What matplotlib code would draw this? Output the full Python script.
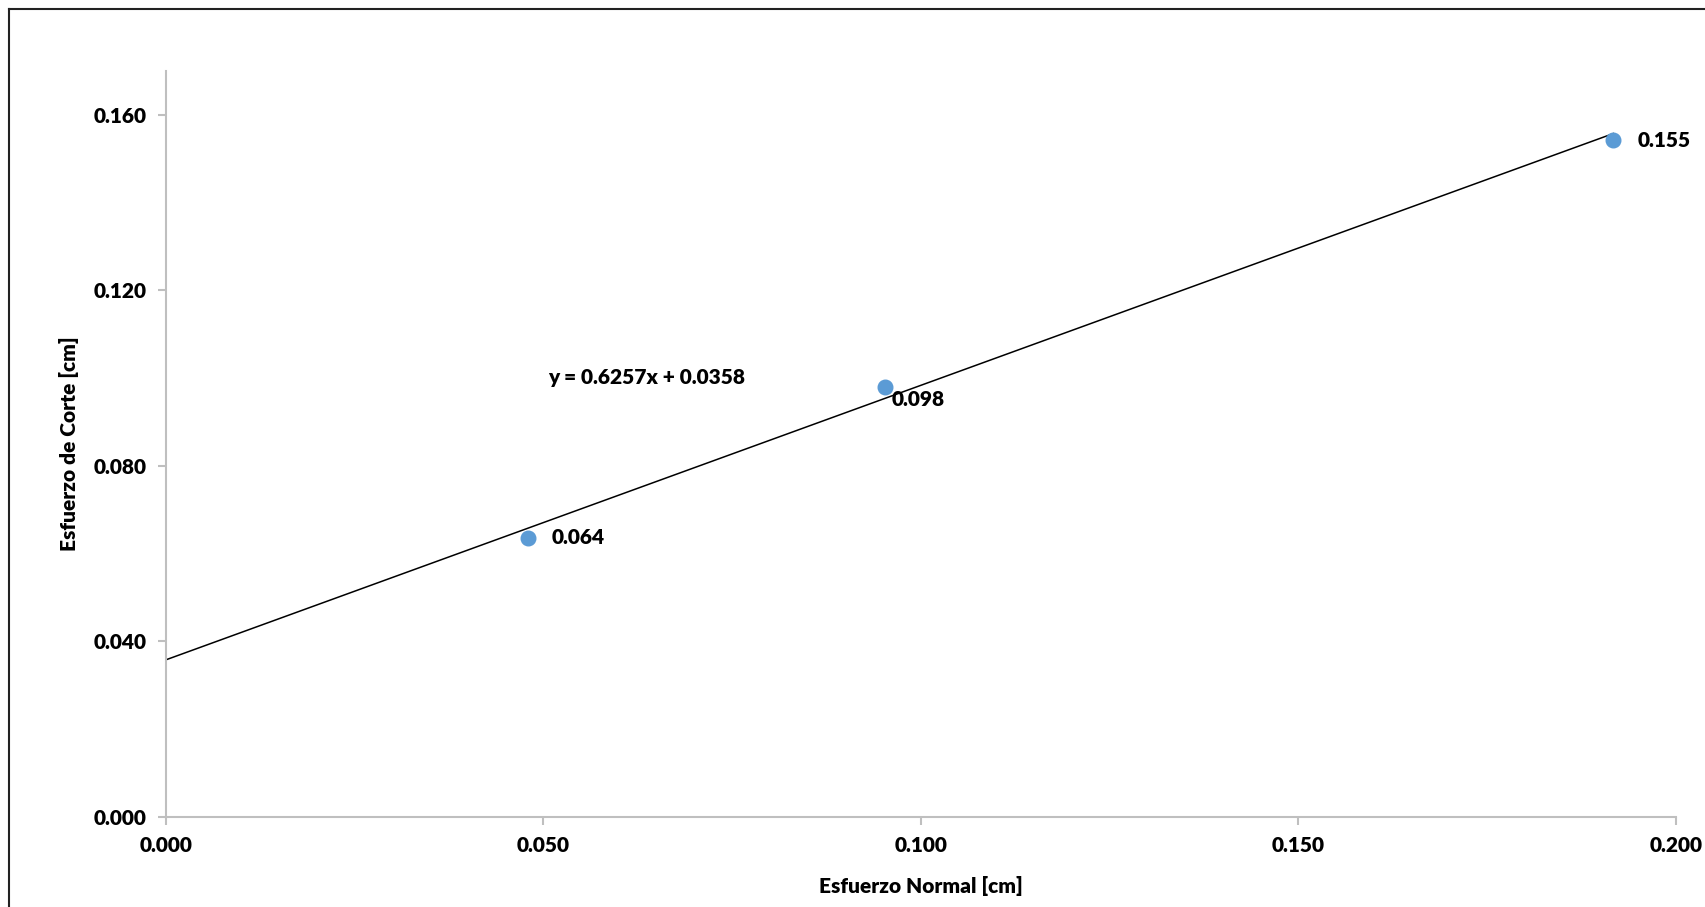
import matplotlib
matplotlib.use("Agg")
import matplotlib.pyplot as plt
from matplotlib.lines import Line2D
import numpy as np

# Data
x_vals = [0.0480, 0.0952, 0.1917]
y_vals = [0.0636, 0.0981, 0.1542]
point_labels = ["0.064", "0.098", "0.155"]
slope = 0.6257
intercept = 0.0358
equation = "y = 0.6257x + 0.0358"
x_ticks = [0.000, 0.050, 0.100, 0.150, 0.200]
y_ticks = [0.000, 0.040, 0.080, 0.120, 0.160]

W = 'heavy'
plt.rcParams['font.family'] = ['Lato', 'DejaVu Sans']
plt.rcParams['font.weight'] = W

fig = plt.figure(figsize=(17.06, 9.07), dpi=100)
ax = fig.add_axes([165.7/1706, 1-817/907, (1676-165.7)/1706, (817-71)/907])

# trendline
xt = np.array([0.0, x_vals[-1]])
ax.plot(xt, slope*xt + intercept, color='black', lw=1.1, zorder=2)
ax.plot(x_vals, y_vals, 'o', color='#5B9BD5', ms=10.5, mec='#5B9BD5', zorder=3)

offsets = [(23, 0), (7, -13), (24, 0)]
for x, y, lab, (dx, dy) in zip(x_vals, y_vals, point_labels, offsets):
    ax.annotate(lab, (x, y), xytext=(dx*0.72, dy*0.72), textcoords='offset points',
                ha='left', va='center', fontsize=15, fontweight=W, color='black')

ax.text(0.0506, 0.1001, equation, ha='left', va='center', fontsize=15, fontweight=W)

ax.set_xlim(0, 0.2)
ax.set_ylim(0, 0.17)
ax.set_xticks(x_ticks)
ax.set_yticks(y_ticks)
ax.set_xticklabels([f"{v:.3f}" for v in x_ticks])
ax.set_yticklabels([f"{v:.3f}" for v in y_ticks])
for s in ['top', 'right']:
    ax.spines[s].set_visible(False)
for s in ['left', 'bottom']:
    ax.spines[s].set_color('#BFBFBF')
    ax.spines[s].set_linewidth(1.5)
ax.tick_params(axis='both', colors='#BFBFBF', length=6, width=1.5, labelcolor='black',
               labelsize=15, pad=8)
for t in ax.get_xticklabels() + ax.get_yticklabels():
    t.set_fontweight(W)

fig.text(921/1706, 1-886/907, "Esfuerzo Normal [cm]", ha='center', va='center',
         fontsize=15, fontweight=W)
fig.text(69/1706, 1-444/907, "Esfuerzo de Corte [cm]", ha='center', va='center',
         rotation=90, fontsize=15, fontweight=W)

# outer border (left and top)
fig.add_artist(Line2D([9/1706, 9/1706], [0, 1-9/907], transform=fig.transFigure, color='#222222', lw=1.5))
fig.add_artist(Line2D([9/1706, 1], [1-9/907, 1-9/907], transform=fig.transFigure, color='#222222', lw=1.5))

fig.savefig("out.png", dpi=100)
